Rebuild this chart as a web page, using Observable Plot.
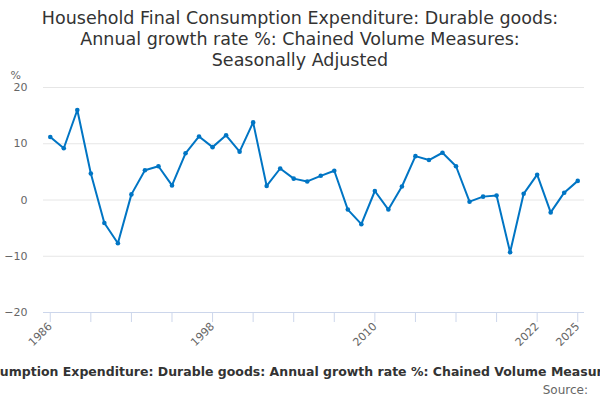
<!DOCTYPE html>
<html>
<head>
<meta charset="utf-8">
<script src="https://cdn.jsdelivr.net/npm/d3@7"></script>
<script src="https://cdn.jsdelivr.net/npm/@observablehq/plot@0.6"></script>
<style>
  html, body { margin: 0; padding: 0; background: #fff; }
  #wrap { position: relative; width: 600px; height: 400px; overflow: hidden; font-family: "DejaVu Sans", sans-serif; }
  #title { position: absolute; left: 0; top: 7.5px; width: 600px; text-align: center; font-size: 17.5px; line-height: 21px; color: #333; }
  #chart { position: absolute; left: 0; top: 75px; }
  #legend { position: absolute; left: -152px; top: 365px; white-space: nowrap; font-size: 12.5px; line-height: 14px; font-weight: bold; color: #333; }
  #source { position: absolute; right: 12px; top: 383px; font-size: 12px; line-height: 14px; color: #666; }
</style>
</head>
<body>
<div id="wrap">
  <div id="title">Household Final Consumption Expenditure: Durable goods:<br>Annual growth rate %: Chained Volume Measures:<br>Seasonally Adjusted</div>
  <div id="chart"></div>
  <div id="legend">Household Final Consumption Expenditure: Durable goods: Annual growth rate %: Chained Volume Measures: Seasonally Adjusted</div>
  <div id="source">Source:</div>
</div>
<script>
const years = [1986,1987,1988,1989,1990,1991,1992,1993,1994,1995,1996,1997,1998,1999,2000,2001,2002,2003,2004,2005,2006,2007,2008,2009,2010,2011,2012,2013,2014,2015,2016,2017,2018,2019,2020,2021,2022,2023,2024,2025];
const values = [11.2,9.2,16.0,4.7,-4.1,-7.7,1.0,5.3,6.0,2.6,8.3,11.3,9.4,11.5,8.6,13.8,2.5,5.6,3.8,3.3,4.3,5.2,-1.7,-4.3,1.6,-1.7,2.4,7.8,7.1,8.4,6.0,-0.3,0.6,0.8,-9.3,1.1,4.5,-2.2,1.3,3.4];
const tickYears = [1986,1989,1992,1995,1998,2001,2004,2007,2010,2013,2016,2019,2022,2025];
const labelYears = [1986,1998,2010,2022,2025];
const yTicks = [-20,-10,0,10,20];

const data = years.map((year, i) => ({year, value: values[i]}));
const blue = "#0075c4";

const chart = Plot.plot({
  width: 600,
  height: 280,
  marginLeft: 43,
  marginRight: 16,
  marginTop: 12,
  marginBottom: 43,
  style: {fontFamily: "DejaVu Sans, sans-serif", background: "white", overflow: "visible"},
  x: {domain: [1985.5, 2025.5]},
  y: {domain: [-20, 20]},
  marks: [
    Plot.gridY(yTicks.filter(d => d > -20), {stroke: "#e6e6e6", strokeOpacity: 1}),
    Plot.ruleY([-20], {stroke: "#ccd6eb"}),
    Plot.axisX({
      ticks: tickYears,
      tickSize: 10,
      tickPadding: 2,
      tickRotate: -45,
      tickFormat: d => labelYears.includes(d) ? String(d) : "",
      stroke: "#ccd6eb",
      fill: "#666",
      fontSize: 11,
      label: null
    }),
    Plot.axisY({
      ticks: yTicks,
      tickSize: 0,
      tickPadding: 16,
      fill: "#666",
      fontSize: 11,
      label: null
    }),
    Plot.text(["%"], {frameAnchor: "top-left", textAnchor: "start", lineAnchor: "bottom", dx: -33, dy: -9, fill: "#666", fontSize: 11}),
    Plot.line(data, {x: "year", y: "value", stroke: blue, strokeWidth: 2}),
    Plot.dot(data, {x: "year", y: "value", r: 2.3, fill: blue, stroke: "none"})
  ]
});
document.getElementById("chart").appendChild(chart);
</script>
</body>
</html>
